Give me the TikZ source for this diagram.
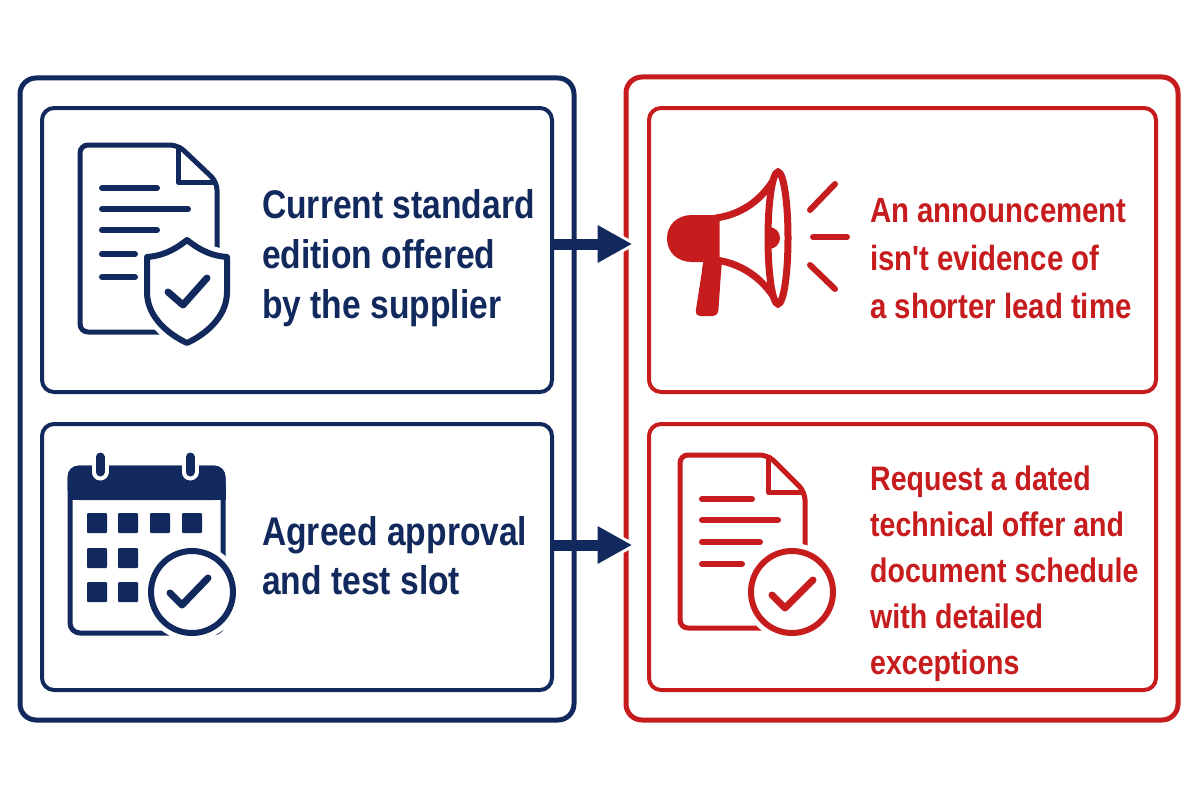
\documentclass[tikz,border=0pt]{standalone}
\usepackage{fontspec}
\usetikzlibrary{calc}
\newfontfamily\lblfont{Liberation Sans}[FakeStretch=0.84]
\definecolor{navy}{RGB}{17,41,92}
\definecolor{cred}{RGB}{198,28,30}
\tikzset{
  outerbox/.style={draw=#1, line width=5pt, rounded corners=16pt, inner sep=0pt, fill=white},
  innerbox/.style={draw=#1, line width=4pt, rounded corners=12pt, inner sep=0pt},
  lblL/.style={anchor=base west, align=left, inner sep=0pt, text=navy, font=\lblfont\bfseries\fontsize{40}{50}\selectfont},
  lblR/.style={anchor=base west, align=left, inner sep=0pt, text=cred, font=\lblfont\bfseries\fontsize{35}{48}\selectfont},
  docline/.style={line width=6pt, line cap=round},
  iconline/.style={line width=5pt, line join=round, rounded corners=8pt},
  halo/.style={preaction={draw=white, line width=16pt, fill=white}},
  checkmark/.style={line width=7pt, line cap=round, line join=round}
}
\begin{document}
\begin{tikzpicture}[x=1pt, y=-1pt]
\useasboundingbox (0,0) rectangle (1200,800);
\fill[white] (0,0) rectangle (1200,800);

% outer boxes
\node[outerbox=navy, minimum width=554pt, minimum height=642pt] (lout) at (297,399) {};
\node[outerbox=cred, minimum width=552pt, minimum height=643pt] (rout) at (902,398.5) {};
% inner boxes
\node[innerbox=navy, minimum width=510pt, minimum height=284pt] (ltop) at (297,250) {};
\node[innerbox=navy, minimum width=510pt, minimum height=266pt] (lbot) at (297,557) {};
\node[innerbox=cred, minimum width=507pt, minimum height=284pt] (rtop) at (902.5,250) {};
\node[innerbox=cred, minimum width=507pt, minimum height=266pt] (rbot) at (902.5,557) {};

% ---- icon 1: document with shield
\draw[navy, iconline] (80,145) -- (178,145) -- (217,182) -- (217,332) -- (80,332) -- cycle;
\draw[navy, line width=5pt, line join=round] (178,145) -- (178,182) -- (217,182);
\draw[navy, docline] (102,188) -- (157,188);
\draw[navy, docline] (102,209) -- (188,209);
\draw[navy, docline] (102,230) -- (157,230);
\draw[navy, docline] (102,254) -- (135,254);
\draw[navy, docline] (102,277) -- (135,277);
\draw[navy, line width=6pt, line join=round, halo, fill=white]
  (187,240) .. controls (172,252) and (160,256) .. (147,257) -- (147,292)
  .. controls (147,318) and (170,335) .. (187,343)
  .. controls (204,335) and (227,318) .. (227,292) -- (227,257)
  .. controls (214,256) and (202,252) .. (187,240) -- cycle;
\draw[navy, checkmark] (168,292) -- (183,305) -- (207,278);

% ---- icon 2: calendar
\draw[navy, line width=5pt, rounded corners=10pt] (70,468) rectangle (223,633);
\fill[navy, rounded corners=11pt] (67.5,465.5) rectangle (225.5,500);
\fill[navy] (67.5,485) rectangle (225.5,500);
\foreach \rx in {100,190}{
  \draw[white, line width=17pt, line cap=round] (\rx,457) -- (\rx,472);
  \draw[navy, line width=9pt, line cap=round] (\rx,457) -- (\rx,472);
}
\foreach \cx in {87,118,150,182}{\fill[navy, rounded corners=1pt] (\cx,513) rectangle ++(20,20);}
\foreach \cx in {87,118}{
  \fill[navy, rounded corners=1pt] (\cx,548) rectangle ++(20,20);
  \fill[navy, rounded corners=1pt] (\cx,582) rectangle ++(20,20);
}
\draw[navy, line width=6pt, halo, fill=white] (192,592) circle (41);
\draw[navy, checkmark] (170,593) -- (182,605) -- (208,578);

% ---- icon 3: megaphone
\fill[cred] (718,215) -- (692,215) .. controls (677,215) and (667,225) .. (667,238.5)
  .. controls (667,252) and (677,262) .. (692,262) -- (718,262) -- cycle;
\fill[cred, rounded corners=5pt] (704,258) -- (722,258) -- (718,316) -- (695,316) -- cycle;
\fill[cred] (704,258) -- (722,258) -- (721,270) -- (702,270) -- cycle;
\draw[cred, line width=7pt, line join=round, fill=white]
  (716,218) .. controls (745,214) and (766,196) .. (778,172) -- (778,304)
  .. controls (766,282) and (745,264) .. (716,260) -- cycle;
\draw[cred, line width=7pt, fill=white] (778,238) ellipse (10 and 66);
\fill[cred] (769,249) arc (90:-90:11) -- cycle;
\draw[cred, line width=6pt, line cap=round] (810,210) -- (835,184);
\draw[cred, line width=6pt, line cap=round] (813,237) -- (847,237);
\draw[cred, line width=6pt, line cap=round] (810,265) -- (835,289);

% ---- icon 4: document with check circle
\draw[cred, iconline] (680,455) -- (768,455) -- (805,492) -- (805,628) -- (680,628) -- cycle;
\draw[cred, line width=5pt, line join=round] (768,455) -- (768,492) -- (805,492);
\draw[cred, docline] (702,499) -- (752,499);
\draw[cred, docline] (702,520) -- (778,520);
\draw[cred, docline] (702,542) -- (760,542);
\draw[cred, docline] (702,564) -- (742,564);
\draw[cred, line width=6pt, halo, fill=white] (792,592) circle (41);
\draw[cred, checkmark] (772,595) -- (785,608) -- (813,580);

% ---- texts (base anchor = baseline of last line)
\node[lblL] (t1) at (262,318) {Current standard\\edition offered\\by the supplier};
\node[lblL, font=\lblfont\bfseries\fontsize{40}{49}\selectfont] (t2) at (262,594) {Agreed approval\\and test slot};
\node[lblR] (t3) at (870,318) {An announcement\\isn't evidence of\\a shorter lead time};
\node[lblR, font=\lblfont\bfseries\fontsize{34}{46}\selectfont] (t4) at (870,674) {Request a dated\\technical offer and\\document schedule\\with detailed\\exceptions};

% ---- arrows
\foreach \ay/\src/\nm in {244/ltop/a, 545/lbot/b}{
  \coordinate (\nm s) at (\src.east |- 0,\ay);
  \coordinate (\nm e) at (rout.west |- 0,\ay);
  \draw[white, line width=6pt, line join=miter]
    ($(\nm e)+(-26,-19)$) -- ($(\nm e)+(8,0)$) -- ($(\nm e)+(-26,19)$) -- cycle;
  \draw[navy, line width=11pt] (\nm s) -- ($(\nm e)+(-24,0)$);
  \fill[navy] ($(\nm e)+(-26,-19)$) -- ($(\nm e)+(8,0)$) -- ($(\nm e)+(-26,19)$) -- cycle;
}
\end{tikzpicture}
\end{document}
